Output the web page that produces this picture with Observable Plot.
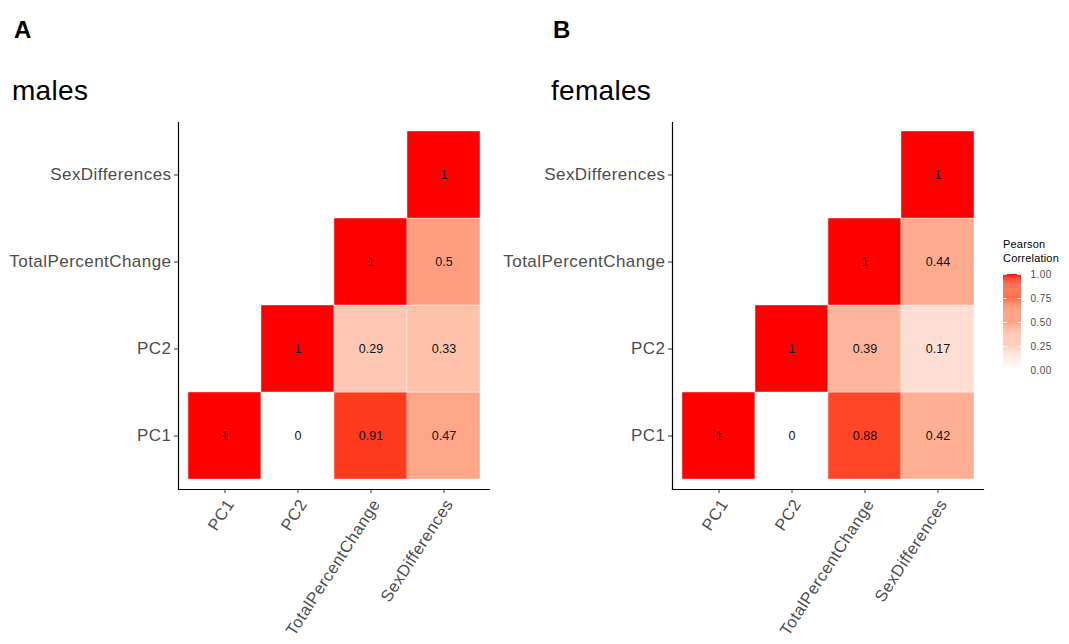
<!DOCTYPE html>
<html>
<head>
<meta charset="utf-8">
<script src="https://cdn.jsdelivr.net/npm/d3@7"></script>
<script src="https://cdn.jsdelivr.net/npm/@observablehq/plot@0.6"></script>
<style>
  body { margin: 0; background: #fff; }
  #root { position: relative; width: 1069px; height: 644px; background: #fff; font-family: "Liberation Sans", Arial, sans-serif; overflow: hidden; }
  .abs { position: absolute; line-height: 1; white-space: nowrap; }
  .tag { font-size: 24px; font-weight: bold; color: #000; }
  .ttl { font-size: 28px; color: #000; letter-spacing: 0.3px; }
  .leg { font-size: 11px; color: #000; line-height: 14px; letter-spacing: 0.2px; }
  svg g[aria-label="y-axis tick label"] text { letter-spacing: 0.45px; }
  svg g[aria-label="x-axis tick label"] text { letter-spacing: 0.5px; }
</style>
</head>
<body>
<div id="root">
  <div class="abs tag" style="left:14px; top:18px;">A</div>
  <div class="abs ttl" style="left:12px; top:77px;">males</div>
  <div class="abs tag" style="left:553px; top:18px;">B</div>
  <div class="abs ttl" style="left:551px; top:77px;">females</div>
  <div id="panelA" class="abs" style="left:0px; top:110px;"></div>
  <div id="panelB" class="abs" style="left:494px; top:110px;"></div>
  <div class="abs leg" style="left:1003px; top:237px;">Pearson<br>Correlation</div>
  <div id="legend" class="abs" style="left:995px; top:230px;"></div>
</div>
<script>
// Variables (x and y categories)
const vars = ["PC1", "PC2", "TotalPercentChange", "SexDifferences"];
// Upper-triangle correlations: row = y variable, column = x variable
const malesR = [
  [1, 0, 0.91, 0.47],
  [null, 1, 0.29, 0.33],
  [null, null, 1, 0.5],
  [null, null, null, 1]
];
const femalesR = [
  [1, 0, 0.88, 0.42],
  [null, 1, 0.39, 0.17],
  [null, null, 1, 0.44],
  [null, null, null, 1]
];
const legendTicks = [0, 0.25, 0.5, 0.75, 1];
const legendSteps = d3.range(0, 1, 0.01);

const font = '"Liberation Sans", Arial, sans-serif';
const colorScale = {type: "linear", domain: [0, 1], range: ["white", "red"], interpolate: "lab"};

function toCells(mat) {
  const out = [];
  mat.forEach((row, i) => row.forEach((r, j) => {
    if (r !== null) out.push({x: vars[j], y: vars[i], r});
  }));
  return out;
}

function panel(mat) {
  const cells = toCells(mat);
  return Plot.plot({
    width: 500, height: 534,
    marginLeft: 178, marginRight: 11, marginTop: 12, marginBottom: 155,
    style: {fontFamily: font, background: "transparent", overflow: "visible"},
    x: {domain: vars, padding: 0, insetLeft: 8, insetRight: 8, label: null},
    y: {domain: [...vars].reverse(), padding: 0, insetTop: 8, insetBottom: 8.5, label: null},
    color: colorScale,
    marks: [
      Plot.cell(cells, {x: "x", y: "y", fill: "r", inset: 0, stroke: "white", strokeWidth: 0.4}),
      Plot.text(cells, {x: "x", y: "y", text: d => String(d.r), fontSize: 12.5, fill: "#111"}),
      Plot.axisX({anchor: "bottom", tickSize: 4, tickPadding: 4, tickRotate: -57, textAnchor: "end", lineAnchor: "top",
                  fontSize: 16.5, fill: "#4d4d4d", stroke: "#333", label: null}),
      Plot.axisY({anchor: "left", tickSize: 4, tickPadding: 3, fontSize: 17, fill: "#4d4d4d", stroke: "#333", label: null}),
      Plot.frame({anchor: "left", stroke: "#000", strokeWidth: 1.2}),
      Plot.frame({anchor: "bottom", stroke: "#000", strokeWidth: 1.2})
    ]
  });
}

document.getElementById("panelA").appendChild(panel(malesR));
document.getElementById("panelB").appendChild(panel(femalesR));

const legend = Plot.plot({
  width: 74, height: 150,
  marginLeft: 8, marginRight: 48, marginTop: 44, marginBottom: 10,
  style: {fontFamily: font, background: "transparent", overflow: "visible"},
  x: {domain: [0, 1], axis: null},
  y: {domain: [0, 1], label: null},
  color: colorScale,
  marks: [
    Plot.rect(legendSteps, {x1: 0, x2: 1, y1: d => d, y2: d => d + 0.0101, fill: d => d + 0.005}),
    Plot.tickY(legendTicks, {y: d => d, stroke: "white", strokeWidth: 0.8, insetRight: 14}),
    Plot.tickY(legendTicks, {y: d => d, stroke: "white", strokeWidth: 0.8, insetLeft: 14}),
    Plot.axisY(legendTicks, {anchor: "right", tickSize: 0, tickPadding: 9, tickFormat: d3.format(".2f"),
                             fontSize: 10, fill: "#4d4d4d", label: null})
  ]
});
document.getElementById("legend").appendChild(legend);
</script>
</body>
</html>
